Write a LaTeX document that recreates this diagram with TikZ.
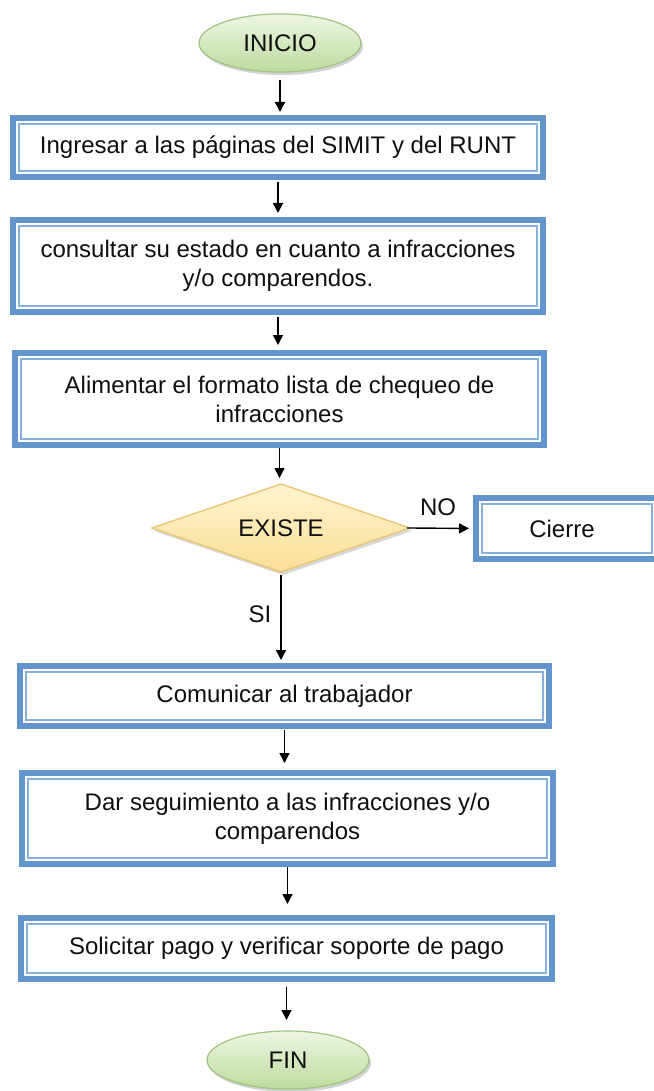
\documentclass[tikz,border=0pt]{standalone}
\usepackage{fontspec}
\setmainfont{Liberation Sans}
\usetikzlibrary{shapes.geometric,arrows.meta,calc,shadows}
\definecolor{boxblue}{RGB}{98,149,204}
\definecolor{thinblue}{RGB}{135,176,218}
\definecolor{greenlight}{RGB}{238,246,228}
\definecolor{greendark}{RGB}{190,219,158}
\definecolor{greenedge}{RGB}{160,196,128}
\definecolor{yellowlight}{RGB}{255,244,208}
\definecolor{yellowdark}{RGB}{249,222,150}
\definecolor{yellowedge}{RGB}{232,198,115}
\definecolor{txt}{RGB}{15,15,15}
\tikzset{
  every node/.style={font=\fontsize{24}{29}\selectfont, text=txt},
  procbox/.style={draw=boxblue, line width=6pt, fill=white, rectangle, outer sep=0pt, inner sep=0pt, align=center},
  innerline/.style={draw=thinblue, line width=1.6pt},
  term/.style={ellipse, draw=greenedge, line width=1.2pt, top color=greenlight, bottom color=greendark, inner sep=0pt, outer sep=0pt, minimum width=162pt, minimum height=58pt, drop shadow={shadow xshift=2pt, shadow yshift=-3pt, opacity=.35, fill=black!50}},
  decide/.style={diamond, aspect=3, draw=yellowedge, line width=1.4pt, top color=yellowlight, bottom color=yellowdark, inner sep=0pt, outer sep=0pt, minimum width=258pt, minimum height=88pt, drop shadow={shadow xshift=2pt, shadow yshift=-3pt, opacity=.3, fill=black!50}},
  arr/.style={draw=black, line width=1.4pt, -{Triangle[length=10pt,width=10pt]}},
  lbl/.style={inner sep=0pt}
}
\begin{document}
\begin{tikzpicture}[x=1pt,y=-1pt]
\useasboundingbox[fill=white] (0,0) rectangle (653,1091);

\node[term] (ini) at (280,43) {INICIO};
\node[procbox, minimum width=530pt, minimum height=59pt] (b1) at (278,147.5) {Ingresar a las páginas del SIMIT y del RUNT};
\node[procbox, minimum width=530pt, minimum height=92pt] (b2) at (278,266) {consultar su estado en cuanto a infracciones\\y/o comparendos.};
\node[procbox, minimum width=529pt, minimum height=92pt] (b3) at (279.5,399) {Alimentar el formato lista de chequeo de\\infracciones};
\node[decide] (dia) at (281,528) {EXISTE};
\node[procbox, minimum width=182pt, minimum height=61pt] (cl) at (567,528.5) {\hspace*{-10pt}Cierre};
\node[procbox, minimum width=529pt, minimum height=60pt] (b4) at (284.5,696) {Comunicar al trabajador};
\node[procbox, minimum width=531pt, minimum height=91pt] (b5) at (287.5,818.5) {Dar seguimiento a las infracciones y/o\\comparendos};
\node[procbox, minimum width=531pt, minimum height=61pt] (b6) at (286.5,948.5) {Solicitar pago y verificar soporte de pago};
\node[term] (fin) at (288,1060) {FIN};

\foreach \n in {b1,b2,b3,cl,b4,b5,b6}{
  \draw[innerline] ($(\n.north west)+(6,6)$) rectangle ($(\n.south east)+(-6,-6)$);
}

\draw[arr, shorten <=8pt, shorten >=6pt] (ini.south) -- (ini.south |- b1.north);
\draw[arr, shorten <=5pt, shorten >=7pt] (b1.south) -- (b1.south |- b2.north);
\draw[arr, shorten <=5pt, shorten >=8pt] (b2.south) -- (b2.south |- b3.north);
\draw[arr, shorten <=3pt, shorten >=6pt] (b3.south) -- (b3.south |- dia.north);
\draw[arr, shorten <=3pt, shorten >=6pt] (dia.south) -- (dia.south |- b4.north) node[lbl, pos=0.45, left=9pt] (si) {SI};
\draw[arr, shorten <=4pt, shorten >=10pt] (b4.south) -- (b4.south |- b5.north);
\draw[arr, shorten <=3pt, shorten >=14pt] (b5.south) -- (b5.south |- b6.north);
\draw[arr, shorten <=8pt, shorten >=11pt] (b6.south) -- (b6.south |- fin.north);
\draw[arr, shorten <=-3pt, shorten >=7pt] (dia.east) -- (cl.west) node[lbl, midway, above=12pt, xshift=-5pt] (no) {NO};
\end{tikzpicture}
\end{document}
